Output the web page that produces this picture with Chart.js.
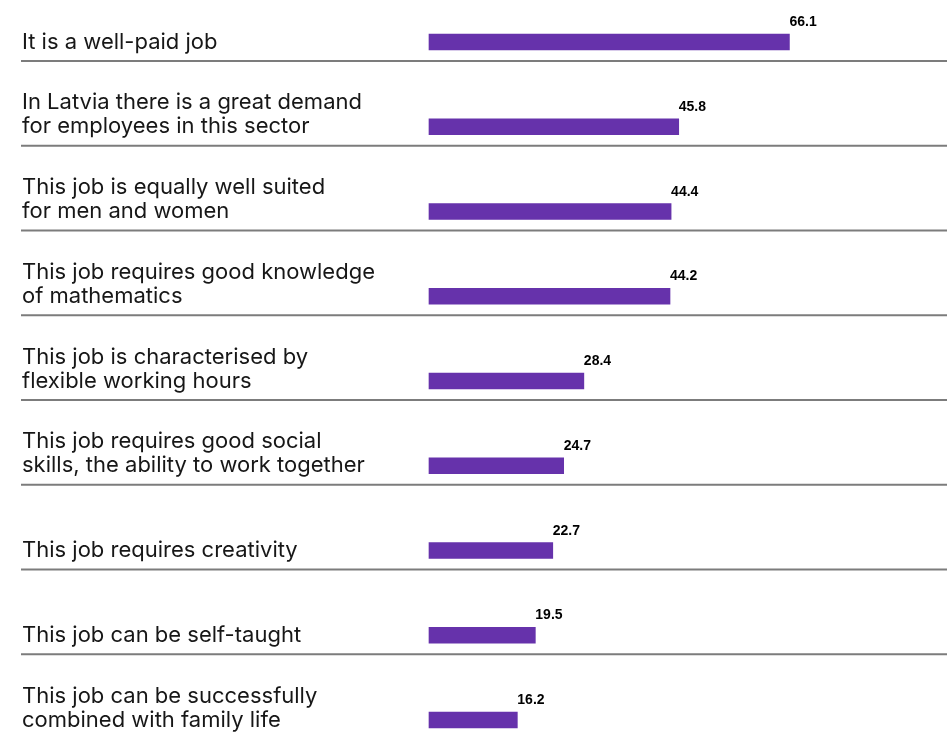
<!DOCTYPE html>
<html>
<head>
<meta charset="utf-8">
<script src="https://cdn.jsdelivr.net/npm/chart.js@4"></script>
<style>
  html, body { margin: 0; padding: 0; background: #fff; }
  #wrap { width: 947px; height: 733px; position: relative; }
</style>
</head>
<body>
<div id="wrap"><canvas id="chart"></canvas></div>
<script>
// Survey statements, each split into the lines shown at the left
const categories = [
    ['It is a well-paid job'],
    ['In Latvia there is a great demand', 'for employees in this sector'],
    ['This job is equally well suited', 'for men and women'],
    ['This job requires good knowledge', 'of mathematics'],
    ['This job is characterised by', 'flexible working hours'],
    ['This job requires good social', 'skills, the ability to work together'],
    ['This job requires creativity'],
    ['This job can be self-taught'],
    ['This job can be successfully', 'combined with family life']
];
const values = [66.1, 45.8, 44.4, 44.2, 28.4, 24.7, 22.7, 19.5, 16.2];

const BAR_COLOR = '#6632ab';
const TEXT_COLOR = '#171717';
const RULE_COLOR = '#7c7c7c';

// Left-hand statement text, row rules and value labels
const rowDecor = {
    id: 'rowDecor',
    afterDraw(chart) {
        const ctx = chart.ctx;
        const yScale = chart.scales.y;
        const xScale = chart.scales.x;
        ctx.save();

        categories.forEach((lines, i) => {
            const y = yScale.getPixelForValue(i);

            // rule under each row
            const ruleY = y + 19;
            if (ruleY < chart.height) {
                ctx.strokeStyle = RULE_COLOR;
                ctx.lineWidth = 2;
                ctx.beginPath();
                ctx.moveTo(21, ruleY);
                ctx.lineTo(chart.width, ruleY);
                ctx.stroke();
            }

            // statement, last line sits level with the bar
            ctx.fillStyle = TEXT_COLOR;
            ctx.font = '22px Inter, "Liberation Sans", sans-serif';
            ctx.textAlign = 'left';
            ctx.textBaseline = 'alphabetic';
            const n = lines.length;
            lines.forEach((txt, k) => {
                ctx.fillText(txt, 22, y + 6.5 - (n - 1 - k) * 24);
            });

            // value above the bar end
            const xEnd = xScale.getPixelForValue(values[i]);
            ctx.fillStyle = '#000';
            ctx.font = 'bold 14px "Liberation Sans", Arial, sans-serif';
            ctx.fillText(values[i].toFixed(1), xEnd, y - 16);
        });

        ctx.restore();
    }
};

new Chart(document.getElementById('chart'), {
    type: 'bar',
    data: {
        labels: categories.map(l => l.join(' ')),
        datasets: [{
            data: values,
            backgroundColor: BAR_COLOR,
            borderWidth: 0,
            barThickness: 16,
            clip: false
        }]
    },
    options: {
        indexAxis: 'y',
        responsive: true,
        maintainAspectRatio: false,
        animation: false,
        layout: { padding: { left: 429, top: 42, bottom: 13, right: 0 } },
        scales: {
            x: { display: false, min: 0, max: 95 },
            y: { display: false, offset: false }
        },
        plugins: {
            legend: { display: false },
            tooltip: { enabled: false }
        }
    },
    plugins: [rowDecor]
});
</script>
</body>
</html>
